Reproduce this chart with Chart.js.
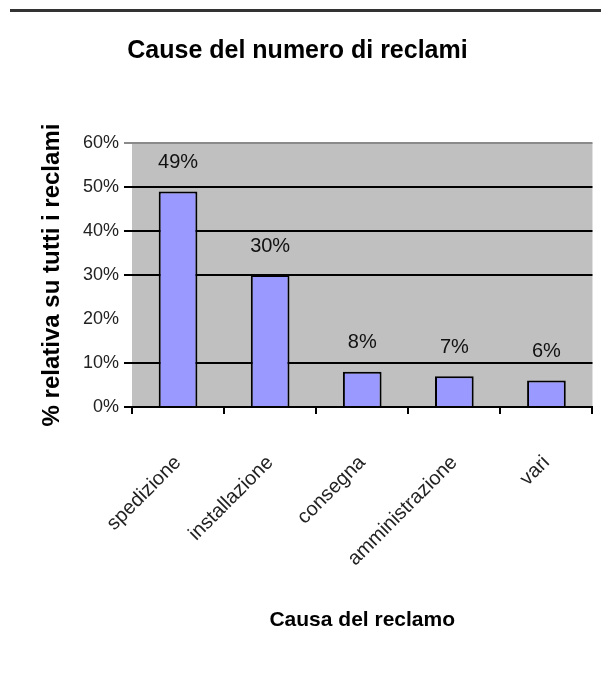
<!DOCTYPE html>
<html>
<head>
<meta charset="utf-8">
<script src="https://cdn.jsdelivr.net/npm/chart.js@4"></script>
<style>
  html, body { margin: 0; padding: 0; background: #fff; }
  #wrap { position: relative; width: 601px; height: 674px; }
  #rule { position: absolute; left: 10px; right: 0; top: 9px; height: 3px; background: #333; }
  canvas { position: absolute; left: 0; top: 0; }
</style>
</head>
<body>
<div id="wrap">
  <canvas id="reclami" width="601" height="674"></canvas>
  <div id="rule"></div>
</div>
<script>
// Causes of complaints, share of all complaints (%)
const categories = ['spedizione', 'installazione', 'consegna', 'amministrazione', 'vari'];
const shares = [49, 30, 8, 7, 6];
const yTicks = [0, 10, 20, 30, 40, 50, 60];

const FONT = '"Liberation Sans", Arial, sans-serif';

// gray plot background like the old spreadsheet charts
const plotBackground = {
  id: 'plotBackground',
  beforeDraw(chart) {
    const { ctx, chartArea: a } = chart;
    ctx.save();
    ctx.fillStyle = '#c0c0c0';
    ctx.fillRect(a.left, a.top, a.right - a.left, a.bottom - a.top);
    ctx.restore();
  }
};

// percentage written above each bar
const barLabels = {
  id: 'barLabels',
  afterDatasetsDraw(chart) {
    const { ctx } = chart;
    const meta = chart.getDatasetMeta(0);
    ctx.save();
    ctx.font = '20px ' + FONT;
    ctx.fillStyle = '#111';
    ctx.textAlign = 'center';
    ctx.textBaseline = 'middle';
    meta.data.forEach((bar, i) => {
      ctx.fillText(shares[i] + '%', bar.x, bar.y - 29);
    });
    ctx.restore();
  }
};

const ctx = document.getElementById('reclami').getContext('2d');
const chart = new Chart(ctx, {
  type: 'bar',
  data: {
    labels: categories,
    datasets: [{
      data: shares,
      backgroundColor: '#9999ff',
      borderColor: '#000',
      borderWidth: 2,
      barPercentage: 0.42,
      categoryPercentage: 1.0
    }]
  },
  options: {
    responsive: false,
    animation: false,
    layout: { padding: { left: 0, right: 6, top: 0, bottom: 0 } },
    plugins: {
      legend: { display: false },
      tooltip: { enabled: false },
      title: {
        display: true,
        text: 'Cause del numero di reclami',
        color: '#000',
        font: { family: FONT, size: 25, weight: 'bold' },
        padding: { top: 36, bottom: 77 }
      }
    },
    scales: {
      y: {
        min: 0,
        max: 60,
        afterBuildTicks: (scale) => { scale.ticks = yTicks.map(v => ({ value: v })); },
        afterFit: (scale) => { scale.width = 132; },
        border: { display: false },
        grid: {
          color: (c) => {
            if (c.tick.value === 60) return '#8a8a8a';
            if (c.tick.value === 20) return 'rgba(0,0,0,0)';
            return '#000';
          },
          lineWidth: 2,
          tickLength: 8
        },
        ticks: {
          color: '#222',
          padding: 5,
          font: { family: FONT, size: 18 },
          callback: (v) => v + '%'
        },
        title: {
          display: true,
          text: '% relativa su tutti i reclami',
          color: '#000',
          font: { family: FONT, size: 24, weight: 'bold' },
          padding: { top: 38, bottom: 0 }
        }
      },
      x: {
        afterFit: (scale) => { scale.height = 267; },
        border: { color: '#000', width: 2 },
        grid: {
          offset: true,
          drawOnChartArea: false,
          color: '#000',
          lineWidth: 2,
          tickLength: 7
        },
        ticks: {
          color: '#222',
          padding: 37,
          maxRotation: 45,
          minRotation: 45,
          font: { family: FONT, size: 20 }
        },
        title: {
          display: true,
          text: 'Causa del reclamo',
          color: '#000',
          font: { family: FONT, size: 21, weight: 'bold' },
          padding: { top: 0, bottom: 41 }
        }
      }
    }
  },
  plugins: [plotBackground, barLabels]
});
</script>
</body>
</html>
